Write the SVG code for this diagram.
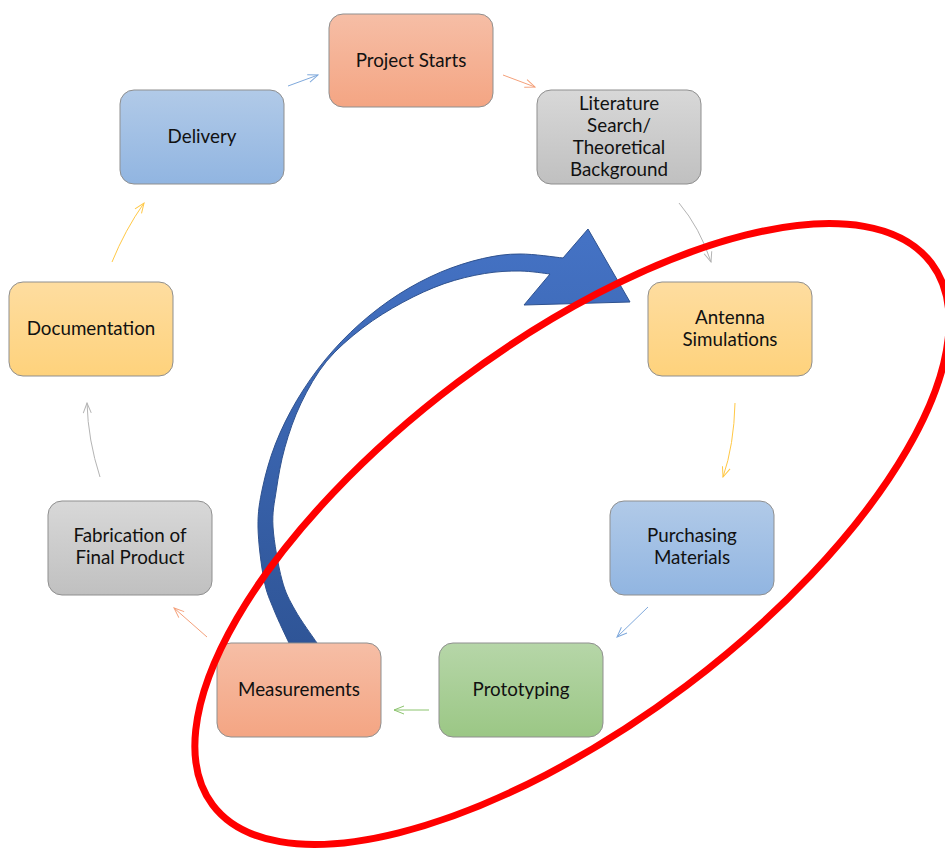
<svg xmlns="http://www.w3.org/2000/svg" width="945" height="848" viewBox="0 0 945 848">
<style>
.box{stroke:#8f8f8f;stroke-width:1}
.t{font-family:Lato,"Liberation Sans",sans-serif;font-size:18.8px;fill:#111;text-anchor:middle}
.c{fill:none;stroke-width:1}
</style>
<defs>
<linearGradient id="gO" x1="0" y1="0" x2="0" y2="1"><stop offset="0" stop-color="#F6BEA6"/><stop offset="1" stop-color="#F4A583"/></linearGradient>
<linearGradient id="gG" x1="0" y1="0" x2="0" y2="1"><stop offset="0" stop-color="#D8D8D8"/><stop offset="1" stop-color="#C0C0C0"/></linearGradient>
<linearGradient id="gY" x1="0" y1="0" x2="0" y2="1"><stop offset="0" stop-color="#FEDDA0"/><stop offset="1" stop-color="#FED27C"/></linearGradient>
<linearGradient id="gB" x1="0" y1="0" x2="0" y2="1"><stop offset="0" stop-color="#B1CAE8"/><stop offset="1" stop-color="#91B5E1"/></linearGradient>
<linearGradient id="gN" x1="0" y1="0" x2="0" y2="1"><stop offset="0" stop-color="#B6D6A8"/><stop offset="1" stop-color="#9BC785"/></linearGradient>
<linearGradient id="gArr" gradientUnits="userSpaceOnUse" x1="0" y1="643" x2="0" y2="240"><stop offset="0" stop-color="#2F5597"/><stop offset="1" stop-color="#4472C4"/></linearGradient>
<marker id="mB" viewBox="0 0 12 10" refX="11" refY="5" markerWidth="12" markerHeight="10" markerUnits="userSpaceOnUse" orient="auto"><path d="M1,1 L11,5 L1,9" fill="none" stroke="#7FA9DC" stroke-width="1"/></marker>
<marker id="mO" viewBox="0 0 12 10" refX="11" refY="5" markerWidth="12" markerHeight="10" markerUnits="userSpaceOnUse" orient="auto"><path d="M1,1 L11,5 L1,9" fill="none" stroke="#F4A07A" stroke-width="1"/></marker>
<marker id="mG" viewBox="0 0 12 10" refX="11" refY="5" markerWidth="12" markerHeight="10" markerUnits="userSpaceOnUse" orient="auto"><path d="M1,1 L11,5 L1,9" fill="none" stroke="#B4B4B4" stroke-width="1"/></marker>
<marker id="mY" viewBox="0 0 12 10" refX="11" refY="5" markerWidth="12" markerHeight="10" markerUnits="userSpaceOnUse" orient="auto"><path d="M1,1 L11,5 L1,9" fill="none" stroke="#FFC845" stroke-width="1"/></marker>
<marker id="mN" viewBox="0 0 12 10" refX="11" refY="5" markerWidth="12" markerHeight="10" markerUnits="userSpaceOnUse" orient="auto"><path d="M1,1 L11,5 L1,9" fill="none" stroke="#8CC46E" stroke-width="1"/></marker>
</defs>
<rect width="945" height="848" fill="#fff"/>
<g id="connectors">
<path class="c" d="M288,86 L318,75" stroke="#7FA9DC" marker-end="url(#mB)"/>
<path class="c" d="M503,75 L535,87" stroke="#F4A07A" marker-end="url(#mO)"/>
<path class="c" d="M679,203 Q700,228 711,262" stroke="#B4B4B4" marker-end="url(#mG)"/>
<path class="c" d="M735,403 Q734,445 723,477" stroke="#FFC845" marker-end="url(#mY)"/>
<path class="c" d="M648,607 L617,637" stroke="#7FA9DC" marker-end="url(#mB)"/>
<path class="c" d="M429,710 L394,710" stroke="#8CC46E" marker-end="url(#mN)"/>
<path class="c" d="M207,637 L174,608" stroke="#F4A07A" marker-end="url(#mO)"/>
<path class="c" d="M100,477 Q88,440 87,403" stroke="#B4B4B4" marker-end="url(#mG)"/>
<path class="c" d="M112,262 Q125,230 144,203" stroke="#FFC845" marker-end="url(#mY)"/>
</g>
<g id="loop-arrow">
<path d="M289,643 C286.5,637.5 278.2,620.5 274,610 C269.8,599.5 266.7,593.8 264,580 C261.3,566.2 258.25,542.3 258,527 C257.75,511.7 259.6,501.8 262.5,488 C265.4,474.2 269.7,458.7 275.4,444.1 C281.1,429.5 288.4,414.6 296.7,400.6 C305,386.6 314.6,372.7 325.1,359.9 C335.6,347.1 347.3,334.9 359.6,324 C371.9,313.1 385.2,302.9 398.7,294.3 C412.2,285.7 426.5,278.2 440.5,272.2 C454.5,266.3 469.3,261.6 482.5,258.6 C495.8,255.6 506.6,253.9 520,254 C533.4,253.9 555.8,257.3 563,258 L588,229 L630,302 L524,305 L550,274 C545,273.5 530.9,271.1 520,271 C509.1,270.9 497.3,271.4 484.6,273.5 C472,275.6 457.7,278.9 444.1,283.7 C430.5,288.5 416.5,294.9 402.9,302.3 C389.3,309.7 375.4,318.1 362.7,327.9 C350,337.7 336.9,348.7 326.6,361.2 C316.3,373.7 308,388.8 301.1,403.1 C294.1,417.5 289,432.8 284.9,447.3 C280.8,461.8 278.3,476.8 276.3,490.1 C274.3,503.4 272.1,512 273,527 C273.95,542 278.3,566.2 282,580 C285.7,593.8 289.2,599.5 295,610 C300.8,620.5 313.3,637.5 317,643 Z" fill="url(#gArr)" stroke="#2F528F" stroke-width="1"/>
</g>
<g id="n-project"><rect class="box" x="329" y="14" width="164" height="93" rx="14" fill="url(#gO)"/><text class="t" x="411" y="67">Project Starts</text></g>
<g id="n-literature"><rect class="box" x="537" y="90" width="164" height="94" rx="14" fill="url(#gG)"/><text class="t" x="619" y="110">Literature</text><text class="t" x="619" y="132">Search/</text><text class="t" x="619" y="154">Theoretical</text><text class="t" x="619" y="176">Background</text></g>
<g id="n-antenna"><rect class="box" x="648" y="282" width="164" height="94" rx="14" fill="url(#gY)"/><text class="t" x="730" y="324">Antenna</text><text class="t" x="730" y="346">Simulations</text></g>
<g id="n-purchasing"><rect class="box" x="610" y="501" width="164" height="94" rx="14" fill="url(#gB)"/><text class="t" x="692" y="542">Purchasing</text><text class="t" x="692" y="564">Materials</text></g>
<g id="n-prototyping"><rect class="box" x="439" y="643" width="164" height="94" rx="14" fill="url(#gN)"/><text class="t" x="521" y="696">Prototyping</text></g>
<g id="n-measurements"><rect class="box" x="217" y="643" width="164" height="94" rx="14" fill="url(#gO)"/><text class="t" x="299" y="696">Measurements</text></g>
<g id="n-fabrication"><rect class="box" x="48" y="501" width="164" height="94" rx="14" fill="url(#gG)"/><text class="t" x="130" y="542">Fabrication of</text><text class="t" x="130" y="564">Final Product</text></g>
<g id="n-documentation"><rect class="box" x="9" y="282" width="164" height="94" rx="14" fill="url(#gY)"/><text class="t" x="91" y="335">Documentation</text></g>
<g id="n-delivery"><rect class="box" x="120" y="90" width="164" height="94" rx="14" fill="url(#gB)"/><text class="t" x="202" y="143">Delivery</text></g>
<g id="focus-ellipse">
<ellipse cx="572" cy="534" rx="450" ry="190" transform="rotate(-37 572 534)" fill="none" stroke="#FF0000" stroke-width="7"/>
</g>
</svg>
